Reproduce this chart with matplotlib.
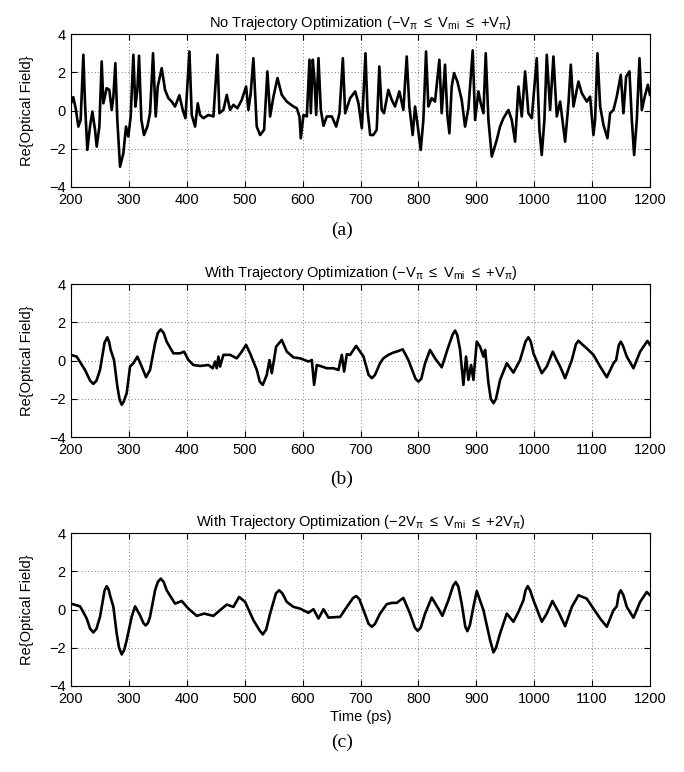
import numpy as np
import matplotlib
matplotlib.use("Agg")
import matplotlib.pyplot as plt

plt.rcParams['font.family'] = ['Liberation Sans', 'DejaVu Sans']
plt.rcParams['mathtext.fontset'] = 'custom'
plt.rcParams['mathtext.rm'] = 'Liberation Sans'
plt.rcParams['mathtext.it'] = 'Liberation Sans:italic'
plt.rcParams['mathtext.default'] = 'regular'

# (a) no trajectory optimization
t_a = [200, 204, 208.6, 212.7, 216.7, 221.3, 224.2, 228.2, 232.8, 236.9, 241.5, 244.4, 249, 253,
       255.9, 261.6, 266.2, 270.3, 273.2, 276.6, 280, 284.7, 290.4, 295, 299, 303.1, 307.7, 311.2,
       314.6, 317.5, 321.5, 326.1, 331.9, 336.5, 341.7, 346.3, 349.8, 356.7, 362.4, 368.2, 374,
       379.7, 387.2, 393, 397.6, 404.5, 408.5, 414.3, 418.9, 422.9, 428.7, 437.3, 446, 452.9, 456.3,
       463.2, 469, 474.8, 480.5, 487.4, 494.9, 502.4, 506.4, 510.4, 515, 520.8, 526.6, 533.5,
       539.2, 543.9, 549.7, 556.6, 564, 572.7, 584.2, 590, 594.6, 596.9, 601.5, 607.3, 611.9, 614.2,
       617.6, 620.5, 623.4, 627.4, 631.5, 636.1, 641.8, 650.5, 658, 663.7, 669.5, 673.5, 682.1,
       690.8, 696.5, 702.3, 708.6, 712.1, 716.7, 722, 728, 732.5, 736.6, 740.6, 748.1, 753.9,
       759.6, 767.1, 774, 779.8, 784.4, 790.1, 794.2, 798.2, 804, 808.6, 813.2, 817.2, 823, 828.7,
       836.2, 840.2, 846, 850, 853.5, 857.5, 861.6, 867.3, 874.8, 880.6, 886.4, 893.8, 897.9,
       903.6, 907.7, 912.3, 916.3, 920.9, 926.7, 935.3, 941, 946.8, 955.5, 961.2, 967, 972.8,
       978.5, 984.3, 990, 995.8, 1004.4, 1009, 1013, 1017.6, 1021.7, 1027.5, 1033.2, 1039, 1044.8,
       1053.4, 1059.2, 1063.2, 1067.8, 1076.4, 1082.2, 1090.8, 1096.5, 1102.3, 1105.2, 1109.2,
       1113.9, 1119.6, 1126.5, 1131.1, 1136.9, 1142.6, 1149.5, 1154.1, 1158.8, 1164.5, 1168.6,
       1172.6, 1177.2, 1181.8, 1185.9, 1191.6, 1196.3, 1200]
y_a = [0.38, 0.7, 0.03, -0.84, -0.49, 2.92, 0.38, -2.06, -0.84, -0.05, -1.01, -1.89, -0.84, 2.57,
       0.38, 1.17, 1.08, 0.03, 0.73, 2.48, -0.49, -2.94, -2.24, -0.84, -1.36, -0.31, 2.92, 0.21,
       1.08, 2.87, -0.49, -1.28, -0.84, -0.14, 3.0, -0.31, 1.26, 2.22, 1.08, 0.65, 0.47, 0.21,
       0.8, 0.03, -0.4, 3.09, -0.23, -0.84, 0.38, -0.23, -0.4, -0.23, -0.31, 2.92, -0.14, 0.03,
       0.82, 0.03, 0.3, 0.12, 0.56, 1.26, 0.03, 0.91, 2.74, -0.84, -1.28, -1.01, 2.05, -0.31,
       0.73, 1.7, 0.82, 0.47, 0.21, 0.12, -0.31, -1.45, -0.23, -0.31, 2.66, -0.14, 2.66, 1.61,
       -0.23, 2.74, 0.03, -0.8, -0.31, -0.31, -0.84, -0.14, 2.74, -0.14, 0.65, 1.0, 0.38, -0.93,
       3.0, 0.03, -1.28, -1.28, -1.01, 2.31, 0.03, -0.14, 1.08, 0.56, 0.21, 1.0, 0.03, 2.83,
       0.21, -1.28, 0.21, -0.66, -2.06, -0.49, 3.09, 0.21, 0.65, 0.47, 2.66, -0.14, 2.4, -0.23,
       -1.19, 1.26, 1.96, 1.52, 0.56, -0.84, 0.12, 3.15, -0.49, 1.0, 0.38, -0.14, 3.0, -0.49,
       -2.41, -1.54, -0.84, -0.4, 0.03, -0.49, -1.63, 1.26, -0.31, 2.05, -0.14, -0.4, 2.74,
       -1.01, -2.33, -0.49, 2.92, 0.03, 2.83, -0.31, 0.47, -1.63, 0.38, 2.4, 0.21, 1.52, 0.91,
       0.47, 0.73, -1.28, -0.49, 3.0, 0.21, -0.75, -1.45, -0.14, 0.03, 0.73, 1.87, -0.14, 1.78,
       2.05, -0.49, -2.33, -0.49, 2.74, 0.03, 0.82, 1.35, 0.82]

# (b) with trajectory optimization, -Vpi..+Vpi
t_b = [200, 209.8, 224.2, 233, 238.6, 244, 250.1, 258, 262.8, 266, 268.5, 274.3, 280.1, 284,
       287.6, 291, 296.2, 302, 307.7, 314.6, 322.1, 329.6, 336.5, 345.2, 350, 355, 360, 365.3,
       376.8, 388.4, 395.3, 402.8, 411.4, 422.9, 437.3, 444.8, 448.8, 451.7, 454.6, 457.5, 463.2,
       474.8, 486.3, 494.9, 502.4, 509.3, 520.9, 526, 531.2, 538.1, 542.7, 546.8, 554.3, 564,
       572.7, 584.2, 595.7, 610.1, 615.9, 619.9, 624.5, 633.2, 641.8, 653.3, 661.9, 667.7, 671.7,
       676.4, 682.1, 692.5, 705.2, 714, 719.6, 725, 733.7, 739.5, 748.1, 756.7, 762.5, 772.9,
       782.7, 795, 800, 805, 811.5, 820.1, 828.7, 840.3, 851.8, 859, 863.3, 867, 872, 877.7,
       882.3, 886.4, 891, 895, 900.8, 906.6, 912.3, 915.2, 921, 925, 929.6, 934, 941.1, 952.6,
       964.1, 975.6, 985, 990, 994, 998.7, 1013.1, 1021.7, 1032.1, 1039, 1044.8, 1053.4, 1065,
       1072, 1076.4, 1081, 1090.8, 1102.3, 1113.9, 1125.4, 1136.9, 1141.5, 1146, 1149.5, 1153,
       1159.9, 1171.4, 1182.9, 1195.5, 1200]
y_b = [0.3, 0.21, -0.49, -1.05, -1.22, -1.05, -0.49, 0.95, 1.22, 0.95, 0.56, 0.03, -1.36, -2.05,
       -2.31, -2.15, -1.7, -0.31, -0.14, 0.21, -0.31, -0.87, -0.49, 0.9, 1.45, 1.63, 1.45, 0.99,
       0.38, 0.38, 0.47, 0.03, -0.23, -0.28, -0.23, -0.4, -0.05, -0.4, 0.21, -0.31, 0.3, 0.3,
       0.12, 0.47, 0.82, 0.38, -0.49, -1.1, -1.27, -0.75, 0.03, -0.66, 0.73, 1.08, 0.47, 0.17,
       0.12, -0.05, 0.03, -1.27, -0.23, -0.31, -0.4, -0.4, -0.49, 0.3, -0.57, 0.33, 0.3, 0.77,
       0.21, -0.75, -0.92, -0.75, -0.14, 0.12, 0.3, 0.42, 0.47, 0.59, 0.03, -0.95, -1.1, -0.95,
       -0.14, 0.56, 0.12, -0.35, 0.73, 1.35, 1.57, 1.35, 0.56, -1.27, 0.21, -1.01, -0.23, -1.01,
       0.99, 0.73, 0.21, 0.56, -1.18, -2.0, -2.23, -2.0, -1.01, -0.14, -0.63, 0.03, 1.0, 1.22,
       1.0, 0.38, -0.66, -0.31, 0.47, 0.03, -0.31, -0.92, 0.03, 0.85, 1.04, 0.9, 0.64, 0.3,
       -0.31, -0.87, -0.14, 0.03, 0.8, 0.99, 0.8, 0.21, -0.4, 0.47, 1.03, 0.82]

# (c) with trajectory optimization, -2Vpi..+2Vpi
t_c = [200, 215.6, 221, 227.1, 233, 238.6, 244, 250.1, 258, 261.6, 265, 267.4, 273.2, 278.9, 283,
       287.6, 292, 296.2, 304.8, 310.6, 319.2, 325, 329, 333, 336.5, 345.2, 350, 355, 360, 365.3,
       379.7, 391.2, 402.8, 417.2, 429.8, 446, 457.5, 469, 480.5, 490.3, 500.7, 515.1, 526, 531.2,
       537, 543.9, 554, 559.4, 565, 572.7, 584.2, 595.7, 610.1, 618.8, 627.4, 636.1, 644.7, 664.9,
       676.4, 687, 692.5, 698, 705.2, 714, 719.6, 725, 733.7, 745.2, 753.9, 762.5, 774, 785.5, 794,
       798.8, 804, 811.5, 823, 834.5, 841.4, 851.8, 860, 864.5, 869, 874.8, 881, 884.6, 889, 895,
       900.8, 912.3, 923.8, 929.6, 934, 941.1, 952.6, 964.1, 972.8, 981.4, 985, 988.9, 993, 998.7,
       1013.1, 1021.7, 1031.5, 1041.9, 1053.4, 1065, 1076.4, 1090.8, 1102.3, 1113.9, 1125.4,
       1136.9, 1142.6, 1146, 1149.5, 1154, 1159.9, 1171.4, 1182.9, 1194.4, 1200]
y_c = [0.31, 0.17, -0.12, -0.47, -1.0, -1.2, -1.0, -0.38, 1.0, 1.22, 1.05, 0.75, 0.14, -1.25,
       -2.0, -2.35, -2.1, -1.6, -0.38, 0.17, -0.3, -0.7, -0.83, -0.7, -0.38, 1.01, 1.45, 1.62,
       1.45, 1.01, 0.31, 0.45, 0.05, -0.33, -0.21, -0.33, -0.03, 0.26, 0.14, 0.66, 0.4, -0.56,
       -1.1, -1.3, -1.05, -0.21, 0.85, 1.01, 0.85, 0.4, 0.14, 0.05, -0.17, 0.02, -0.47, 0.02,
       -0.42, -0.38, 0.14, 0.6, 0.71, 0.55, -0.03, -0.75, -0.9, -0.75, -0.21, 0.28, 0.35, 0.35,
       0.61, -0.21, -0.95, -1.11, -0.95, -0.21, 0.63, 0.05, -0.33, 0.49, 1.25, 1.44, 1.2, 0.31,
       -0.9, -1.13, -0.8, 0.14, 0.97, -0.03, -1.6, -2.24, -2.0, -1.25, -0.21, -0.64, -0.12, 0.49,
       1.0, 1.23, 1.0, 0.49, -0.64, -0.21, 0.45, -0.12, -0.87, 0.14, 0.75, 0.57, 0.05, -0.47,
       -0.9, -0.03, 0.17, 0.8, 1.01, 0.75, 0.14, -0.43, 0.4, 0.92, 0.75]

titles = [r'No Trajectory Optimization ($-V_\pi\ \leq\ V_{mi}\ \leq\ {+}V_\pi$)',
          r'With Trajectory Optimization ($-V_\pi\ \leq\ V_{mi}\ \leq\ {+}V_\pi$)',
          r'With Trajectory Optimization ($-2V_\pi\ \leq\ V_{mi}\ \leq\ {+}2V_\pi$)']
tags = ['(a)', '(b)', '(c)']
series = [(t_a, y_a), (t_b, y_b), (t_c, y_c)]

fig = plt.figure(figsize=(6.84, 7.72), dpi=100)
bottoms = [0.7578, 0.4339, 0.1114]
tag_y = [230, 479, 742]

for i, (t, y) in enumerate(series):
    ax = fig.add_axes([0.1038, bottoms[i], 0.8465, 0.198])
    ax.plot(t, y, color='black', lw=1.9, solid_joinstyle='round')
    ax.set_xlim(200, 1200)
    ax.set_ylim(-4, 4)
    ax.set_xticks(np.arange(200, 1201, 100))
    ax.set_yticks([-4, -2, 0, 2, 4])
    ax.grid(True, linestyle=(0, (1, 3)), color='black', lw=0.6, alpha=0.7)
    ax.tick_params(direction='in', top=True, right=True, labelsize=10.5, length=4, pad=4)
    for s in ax.spines.values():
        s.set_linewidth(0.8)
    ax.set_title(titles[i], fontsize=10.5, pad=5)
    ax.set_ylabel('Re{Optical Field}', fontsize=10.5, labelpad=11)
    if i == 2:
        ax.set_xlabel('Time (ps)', fontsize=10.5, labelpad=3)
    fig.text(0.5, 1 - tag_y[i] / 772, tags[i], ha='center', va='center',
             family='Liberation Serif', fontsize=14)

fig.savefig('out.png', dpi=100)
